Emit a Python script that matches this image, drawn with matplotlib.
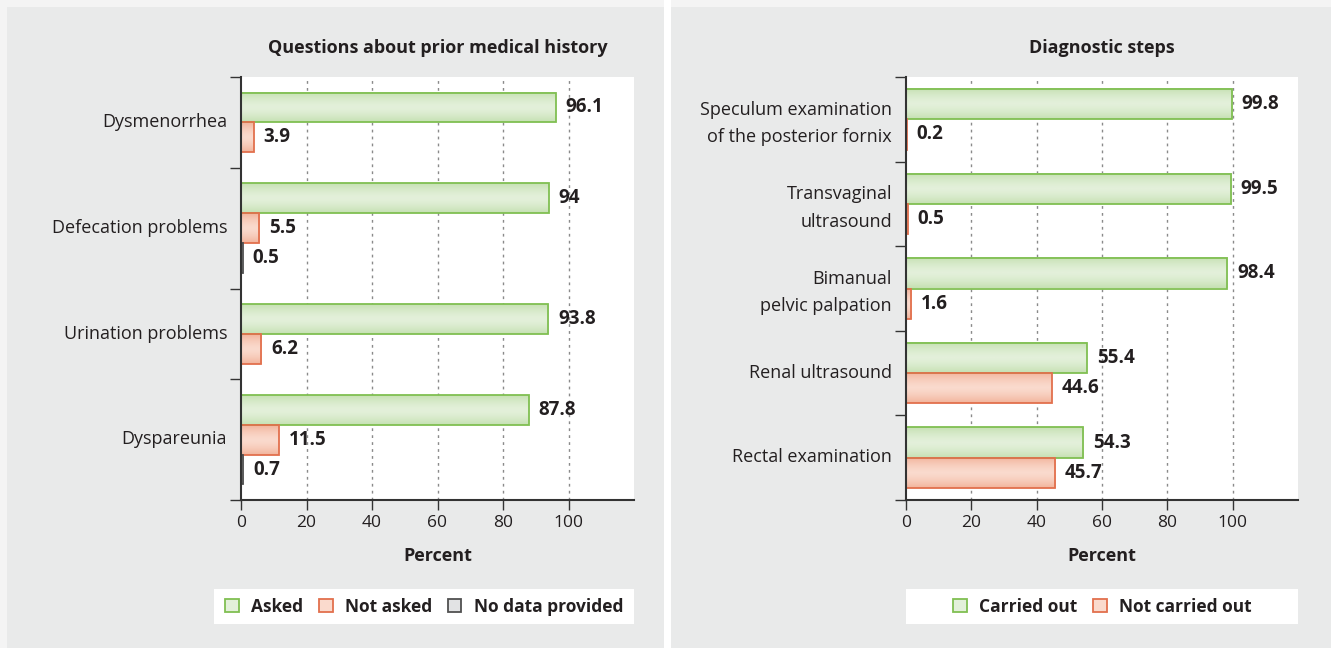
import matplotlib
matplotlib.use('Agg')
import numpy as np
import matplotlib.pyplot as plt
from matplotlib.colors import LinearSegmentedColormap
from matplotlib.patches import Rectangle, Patch

# ----------------------------------------------------------------------------
# data
# ----------------------------------------------------------------------------
history_cats = ['Dysmenorrhea', 'Defecation problems', 'Urination problems', 'Dyspareunia']
asked = [96.1, 94, 93.8, 87.8]
not_asked = [3.9, 5.5, 6.2, 11.5]
no_data = [None, 0.5, None, 0.7]

steps_cats = ['Speculum examination\nof the posterior fornix', 'Transvaginal\nultrasound',
              'Bimanual\npelvic palpation', 'Renal ultrasound', 'Rectal examination']
carried_out = [99.8, 99.5, 98.4, 55.4, 54.3]
not_carried_out = [0.2, 0.5, 1.6, 44.6, 45.7]

# (edge-of-bar fill, middle fill, outline)
GREEN = ('#c6e1b3', '#e3f0da', '#80bf52')
ORANGE = ('#f2b49c', '#fadacd', '#e2704d')
GRAY = ('#bfc0c1', '#e2e3e4', '#505050')
PANEL = '#e9eaea'
TEXT = '#231f20'

plt.rcParams['font.family'] = ['Open Sans', 'DejaVu Sans']
plt.rcParams['text.color'] = TEXT
plt.rcParams['axes.labelcolor'] = TEXT
plt.rcParams['xtick.color'] = '#333333'
plt.rcParams['ytick.color'] = '#333333'
plt.rcParams['xtick.labelcolor'] = TEXT
plt.rcParams['ytick.labelcolor'] = TEXT

W, H = 1331, 648
fig = plt.figure(figsize=(W / 100, H / 100), dpi=100, facecolor='#f4f4f4')


def fx(px):
  return px / W


def fy(py):
  return 1 - py / H


# grey panels, kept behind the axes
fig.patches.append(Rectangle((fx(7), 0), fx(664 - 7), fy(7), transform=fig.transFigure,
                             facecolor=PANEL, edgecolor='none', zorder=-5))
fig.patches.append(Rectangle((fx(671), 0), fx(W - 671), fy(7), transform=fig.transFigure,
                             facecolor=PANEL, edgecolor='none', zorder=-5))
fig.patches.append(Rectangle((fx(664), 0), fx(7), 1, transform=fig.transFigure,
                             facecolor='white', edgecolor='none', zorder=-5))

grad = np.abs(np.linspace(-1, 1, 40)) ** 1.5
grad = grad.reshape(-1, 1)


def draw_panel(x0, x1, title, cats, series, styles, pad):
  ax = fig.add_axes([fx(x0), fy(500), fx(x1 - x0), (500 - 77) / H])
  ax.set_facecolor('white')
  pos = 0.0
  centers = []
  bounds = [0.0]
  for i, cat in enumerate(cats):
    pos += pad
    start = pos
    for vals, (c_out, c_mid, ec) in zip(series, styles):
      v = vals[i]
      if v is None:
        continue
      cmap = LinearSegmentedColormap.from_list('g', [c_mid, c_out])
      ax.imshow(grad, cmap=cmap, aspect='auto', extent=(0, v, pos + 1, pos),
                interpolation='bilinear', zorder=2)
      ax.barh(pos + 0.5, v, height=1.0, color='none', edgecolor=ec, linewidth=1.3, zorder=3)
      ax.annotate(f'{v:g}', (v, pos + 0.5), xytext=(7, 0), textcoords='offset points',
                  va='center', ha='left', fontsize=13.5, fontweight='bold', zorder=4)
      pos += 1
    centers.append((start + pos) / 2)
    pos += pad
    bounds.append(pos)
  ax.set_ylim(pos, 0)
  ax.set_xlim(0, 120)
  ax.set_xticks([0, 20, 40, 60, 80, 100])
  ax.tick_params(axis='x', labelsize=12.5, length=7, width=1, pad=4)
  ax.set_yticks([c - 0.08 for c in centers])
  ax.set_yticklabels(cats, fontsize=13, linespacing=1.65)
  ax.set_yticks(bounds, minor=True)
  ax.tick_params(axis='y', which='major', length=0, pad=10)
  ax.tick_params(axis='y', which='minor', length=8, width=1)
  for gx in [20, 40, 60, 80, 100]:
    ax.axvline(gx, color='#8a8a8a', linestyle=(0, (2, 3)), linewidth=1, zorder=1)
  for s in ['top', 'right']:
    ax.spines[s].set_visible(False)
  for s in ['left', 'bottom']:
    ax.spines[s].set_color('#333333')
    ax.spines[s].set_linewidth(1.5)
    ax.spines[s].set_zorder(5)
  ax.set_xlabel('Percent', fontsize=13, fontweight='bold', labelpad=11)
  ax.set_title(title, fontsize=13, fontweight='bold', pad=17)
  return ax


draw_panel(241, 634, 'Questions about prior medical history', history_cats,
           [asked, not_asked, no_data], [GREEN, ORANGE, GRAY], 0.52)
draw_panel(906, 1298, 'Diagnostic steps', steps_cats,
           [carried_out, not_carried_out], [GREEN, ORANGE], 0.4)


def draw_legend(x0, x1, labels, styles):
  fig.patches.append(Rectangle((fx(x0), fy(624)), fx(x1 - x0), (624 - 589) / H,
                               transform=fig.transFigure, facecolor='white',
                               edgecolor='none', zorder=1))
  handles = [Patch(facecolor=c_mid, edgecolor=ec, linewidth=1.3) for c_out, c_mid, ec in styles]
  fig.legend(handles, labels, loc='center', bbox_to_anchor=(fx((x0 + x1) / 2), fy(606.5)),
             ncol=len(labels), frameon=False, prop={'size': 12.5, 'weight': 'bold'},
             handlelength=0.8, handleheight=0.8, handletextpad=0.7, columnspacing=0.9)


draw_legend(214, 634, ['Asked', 'Not asked', 'No data provided'], [GREEN, ORANGE, GRAY])
draw_legend(906, 1298, ['Carried out', 'Not carried out'], [GREEN, ORANGE])

plt.savefig('out.png', dpi=100, facecolor=fig.get_facecolor())
